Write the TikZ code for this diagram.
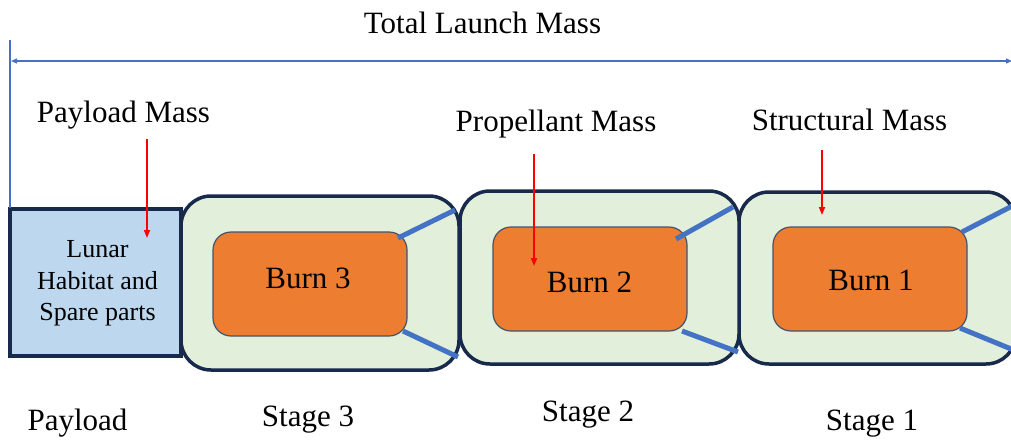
\documentclass[tikz,border=0pt]{standalone}
\usepackage{fontspec}
\setmainfont{Liberation Serif}
\usetikzlibrary{arrows.meta}
\definecolor{framenavy}{RGB}{24,42,76}
\definecolor{payloadblue}{HTML}{BDD7EE}
\definecolor{stagegreen}{HTML}{E2EFDA}
\definecolor{burnorange}{HTML}{ED7D31}
\definecolor{burnedge}{HTML}{44546A}
\definecolor{strutblue}{HTML}{4472C4}
\begin{document}
\begin{tikzpicture}[x=1pt,y=-1pt,
  lbl/.style={anchor=base, inner sep=0pt, font=\fontsize{31}{37}\selectfont},
  stagebox/.style={draw=framenavy, line width=3.5pt, fill=stagegreen, rounded corners=30pt, inner sep=0pt},
  payloadbox/.style={draw=framenavy, line width=4pt, fill=payloadblue, inner sep=0pt},
  burnbox/.style={draw=burnedge, line width=1.2pt, fill=burnorange, rounded corners=18pt, inner sep=0pt},
  strut/.style={draw=strutblue, line width=5pt},
  massarrow/.style={draw=red, line width=1.6pt, -{Triangle[length=8pt,width=6pt]}},
  dimline/.style={draw=strutblue, line width=1.3pt}
]
\useasboundingbox (0,0) rectangle (1011,439);
\clip (0,0) rectangle (1011,439);

% stage hulls
\node[stagebox, minimum width=277pt, minimum height=172pt] (s1) at (877.5,278) {};
\node[stagebox, minimum width=279pt, minimum height=173pt] (s2) at (599.5,277.5) {};
\node[stagebox, minimum width=278pt, minimum height=174pt] (s3) at (320,283) {};

% payload block
\node[payloadbox, minimum width=171pt, minimum height=147pt] (pay) at (95.5,282.5) {};
\node[align=center, inner sep=0pt, font=\fontsize{26}{31.5}\selectfont] (paytxt) at (97.5,283.7)
  {Lunar\\Habitat and\\Spare parts};

% burn blocks
\node[burnbox, minimum width=194pt, minimum height=104pt] (b3) at (310,284) {};
\node[burnbox, minimum width=194pt, minimum height=104pt] (b2) at (590,279) {};
\node[burnbox, minimum width=194pt, minimum height=104pt] (b1) at (870,279) {};
\node[lbl] (b3t) at (308,288) {Burn 3};
\node[lbl] (b2t) at (589.5,292) {Burn 2};
\node[lbl] (b1t) at (871,290) {Burn 1};

% struts between burn blocks and hulls
\coordinate (s3ua) at (398,238); \coordinate (s3ub) at (455,210);
\coordinate (s3la) at (403,331); \coordinate (s3lb) at (458,357);
\coordinate (s2ua) at (676,239); \coordinate (s2ub) at (733,207);
\coordinate (s2la) at (682,331); \coordinate (s2lb) at (738,352);
\coordinate (s1ua) at (962,232); \coordinate (s1ub) at (1016,204);
\coordinate (s1la) at (960,328); \coordinate (s1lb) at (1016,351);
\draw[strut] (s3ua) -- (s3ub);
\draw[strut] (s3la) -- (s3lb);
\draw[strut] (s2ua) -- (s2ub);
\draw[strut] (s2la) -- (s2lb);
\draw[strut] (s1ua) -- (s1ub);
\draw[strut] (s1la) -- (s1lb);

% total launch mass dimension
\coordinate (tickTop) at (10,40);
\coordinate (tickBot) at (10,208);
\coordinate (dimL) at (11,61);
\coordinate (dimR) at (1012,61);
\draw[dimline] (tickTop) -- (tickBot);
\draw[dimline, {Triangle[length=6pt,width=5pt]}-{Triangle[length=6pt,width=5pt]}] (dimL) -- (dimR);
\node[lbl] (total) at (482.5,33) {Total Launch Mass};

% mass labels and pointers
\node[lbl] (pm) at (123.5,122.7) {Payload Mass};
\node[lbl] (prm) at (556,131) {Propellant Mass};
\node[lbl] (sm) at (849.5,130) {Structural Mass};
\coordinate (pmTail) at (147,139); \coordinate (pmTip) at (147,238);
\coordinate (prmTail) at (534,154); \coordinate (prmTip) at (534,266);
\coordinate (smTail) at (822,150); \coordinate (smTip) at (822,215);
\draw[massarrow] (pmTail) -- (pmTip);
\draw[massarrow] (prmTail) -- (prmTip);
\draw[massarrow] (smTail) -- (smTip);

% stage captions
\node[lbl] (payc) at (77.5,430) {Payload};
\node[lbl] (s3c) at (308,426.7) {Stage 3};
\node[lbl] (s2c) at (588,421.7) {Stage 2};
\node[lbl] (s1c) at (872,430) {Stage 1};
\end{tikzpicture}
\end{document}
